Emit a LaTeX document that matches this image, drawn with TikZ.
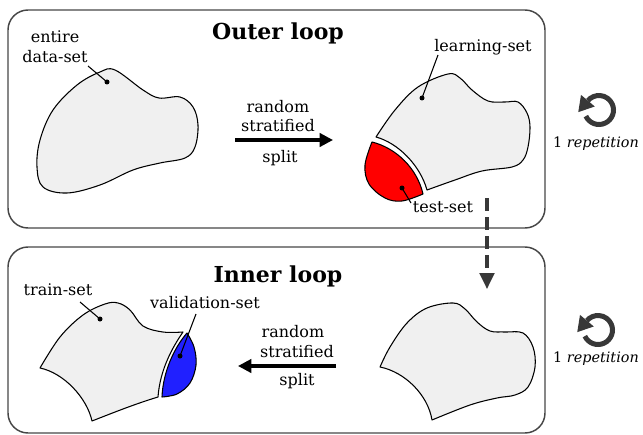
\documentclass[tikz,border=0pt]{standalone}
\usepackage{fontspec}
\setmainfont{DejaVu Serif}
\usetikzlibrary{arrows.meta,calc}
\definecolor{blobfill}{RGB}{240,240,240}
\definecolor{boxline}{RGB}{70,70,70}
\definecolor{iconcol}{RGB}{56,56,56}
\definecolor{testred}{RGB}{255,0,0}
\definecolor{valblue}{RGB}{32,32,255}
\tikzset{
  x=0.75pt, y=-0.75pt,
  blob/.style={draw=black, line width=0.8pt, fill=blobfill, line join=round},
  redpart/.style={draw=black, line width=0.8pt, fill=testred, line join=round},
  bluepart/.style={draw=black, line width=0.8pt, fill=valblue, line join=round},
  loopbox/.style={draw=boxline, line width=1.1pt, rounded corners=15pt},
  lbl/.style={font=\fontsize{12}{14}\selectfont, inner sep=0pt, anchor=base},
  replbl/.style={font=\fontsize{10.8}{13}\selectfont, inner sep=0pt, anchor=base},
  looptitle/.style={font=\fontsize{16.5}{20}\selectfont\bfseries, inner sep=0pt, anchor=base},
  leader/.style={draw=black, line width=0.8pt},
  dotmark/.style={fill=black},
  bigarrow/.style={draw=black, line width=2.3pt, -{Triangle[length=10pt,width=10pt]}},
  dasharrow/.style={draw=iconcol, line width=2.3pt, dash pattern=on 9.75pt off 4.5pt, -{Triangle[length=12pt,width=11pt]}},
  repicon/.pic={
    \begin{scope}[yscale=-1]
      \draw[iconcol, line width=3.75pt] (205:14.5) arc[start angle=205, end angle=500, radius=14.5];
      \fill[iconcol] ($(140:14.5)+(230:15)$) -- (140:23.5) -- (140:5.5) -- cycle;
    \end{scope}
  }
}
\begin{document}
\begin{tikzpicture}
\useasboundingbox (0,0) rectangle (643,435);

% loop boxes
\draw[loopbox] (8,10) rectangle (545,228);
\draw[loopbox] (8,247) rectangle (545,433);

% titles
\node[looptitle] (outer) at (278,40) {Outer loop};
\node[looptitle] (inner) at (278,282) {Inner loop};

% entire data-set blob
\draw[blob] plot[smooth cycle, tension=0.6] coordinates {(115,70) (143,90) (159,98) (180,97) (193,107) (198,125) (195,147) (185,158) (160,163) (133,170) (100,185) (67,193) (43,187) (37,167) (40,140) (53,110) (77,85) (100,72)};
\node[lbl] (entire1) at (55,43) {entire};
\node[lbl] (entire2) at (55,63) {data-set};
\coordinate (lEntire) at (88,66);
\coordinate (dEntire) at (107,82);
\draw[leader] (lEntire) -- (dEntire);
\fill[dotmark] (dEntire) circle (2.5);

% outer split arrow
\coordinate (a1s) at (235,140);
\coordinate (a1e) at (333,140);
\draw[bigarrow] (a1s) -- (a1e);
\node[lbl] (r1) at (278,113) {random};
\node[lbl] (s1) at (278,132) {stratified};
\node[lbl] (p1) at (280,162) {split};

% learning-set blob
\draw[blob] plot[smooth, tension=0.6] coordinates {(376,137) (395,110) (418,87) (448,74) (460,78) (472,90) (488,101) (505,102) (518,102) (527,113) (530,127) (528,147) (523,160) (512,167) (482,171) (455,180) (427,190)} .. controls (420,165) and (398,143) .. (376,137) -- cycle;
% test-set part
\draw[redpart] (372,142) .. controls (396,148) and (417,168) .. (423,194) -- plot[smooth, tension=0.6] coordinates {(423,194) (402,201) (385,198) (369,184) (365,165) (372,142)} -- cycle;
\node[lbl] (learn) at (483,52) {learning-set};
\coordinate (lLearn) at (438,55);
\coordinate (dLearn) at (422,98);
\draw[leader] (lLearn) -- (dLearn);
\fill[dotmark] (dLearn) circle (2.5);
\node[lbl] (test) at (443,212) {test-set};
\coordinate (lTest) at (411,203);
\coordinate (dTest) at (402,188);
\draw[leader] (lTest) -- (dTest);
\fill[dotmark] (dTest) circle (2.5);

% repetition icons
\pic at (599,110) {repicon};
\node[replbl] (rep1) at (596,147) {1 \textit{repetition}};
\pic at (598,330) {repicon};
\node[replbl] (rep2) at (596,362) {1 \textit{repetition}};

% dashed arrow between loops
\coordinate (dashS) at (487,198);
\coordinate (dashE) at (487,289);
\draw[dasharrow] (dashS) -- (dashE);

% inner right blob (learning-set)
\draw[blob] plot[smooth, tension=0.6] coordinates {(380,367) (390,347) (407,323) (427,308) (453,303) (465,309) (477,322) (490,331) (505,332) (523,333) (533,347) (535,367) (528,387) (515,395) (497,398) (470,405) (432,420)} .. controls (428,395) and (405,372) .. (380,367) -- cycle;

% inner split arrow
\coordinate (a2s) at (336,366);
\coordinate (a2e) at (238,366);
\draw[bigarrow] (a2s) -- (a2e);
\node[lbl] (r2) at (293,337) {random};
\node[lbl] (s2) at (297,357) {stratified};
\node[lbl] (p2) at (297,385) {split};

% train-set blob
\draw[blob] plot[smooth, tension=0.6] coordinates {(40,368) (60,337) (83,315) (105,304) (118,303) (130,310) (143,326) (163,332) (183,332)} .. controls (172,348) and (160,370) .. (158,397) .. controls (135,404) and (115,412) .. (92,421) .. controls (87,398) and (64,373) .. (40,368) -- cycle;
% validation-set part
\draw[bluepart] plot[smooth, tension=0.6] coordinates {(187,333) (194,347) (196,365) (190,383) (177,394) (162,397)} .. controls (163,372) and (174,348) .. (187,333) -- cycle;
\node[lbl] (train) at (58,295) {train-set};
\coordinate (lTrain) at (80,302);
\coordinate (dTrain) at (100,319);
\draw[leader] (lTrain) -- (dTrain);
\fill[dotmark] (dTrain) circle (2.5);
\node[lbl] (valid) at (205,308) {validation-set};
\coordinate (lValid) at (196,314);
\coordinate (dValid) at (180,356);
\draw[leader] (lValid) -- (dValid);
\fill[dotmark] (dValid) circle (2.5);
\end{tikzpicture}
\end{document}
